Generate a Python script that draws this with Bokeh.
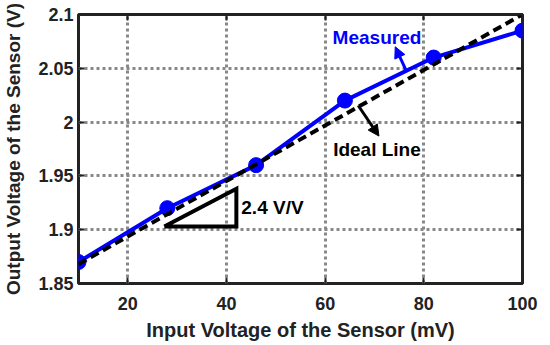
from bokeh.plotting import figure
from bokeh.models import LinearAxis, Range1d, FixedTicker, Arrow, NormalHead, Label
from bokeh.embed import file_html
from bokeh.resources import INLINE

# data
x_meas = [10, 28, 46, 64, 82, 100]
y_meas = [1.87, 1.92, 1.96, 2.02, 2.06, 2.085]
x_ideal = [10, 100]
y_ideal = [1.868, 2.1]
x_ticks = [20, 40, 60, 80, 100]
y_ticks = [1.85, 1.9, 1.95, 2.0, 2.05, 2.1]
y_tick_labels = {1.85: "1.85", 1.9: "1.9", 1.95: "1.95", 2.0: "2", 2.05: "2.05", 2.1: "2.1"}
tri_x = [27.4, 42, 42, 27.4]
tri_y = [1.903, 1.903, 1.938, 1.903]
x_title = "Input Voltage of the Sensor (mV)"
y_title = "Output Voltage of the Sensor (V)"

FONT = "Liberation Sans"
DARK = "#222222"

p = figure(width=550, height=345, output_backend="svg", toolbar_location=None,
           x_range=Range1d(10, 100), y_range=Range1d(1.85, 2.1),
           min_border_left=77, min_border_right=28, min_border_top=14, min_border_bottom=62,
           x_axis_label=x_title, y_axis_label=y_title)

p.outline_line_color = DARK
p.outline_line_width = 3
p.background_fill_color = "white"

for ax in (p.xaxis[0], p.yaxis[0]):
    ax.axis_line_color = None
    ax.major_tick_in = 6
    ax.major_tick_out = 0
    ax.major_tick_line_width = 2
    ax.major_tick_line_color = DARK
    ax.minor_tick_line_color = None
    ax.major_label_text_font = FONT
    ax.major_label_text_font_style = "bold"
    ax.major_label_text_font_size = "18px"
    ax.major_label_text_color = DARK
    ax.axis_label_text_font = FONT
    ax.axis_label_text_font_style = "bold"
    ax.axis_label_text_font_size = "20px"
    ax.axis_label_text_color = DARK

p.yaxis[0].axis_label_text_font_size = "19px"
p.xaxis[0].major_label_standoff = 13
p.xaxis[0].axis_label_standoff = 6
p.yaxis[0].major_label_standoff = 5
p.yaxis[0].axis_label_standoff = 11

p.xaxis[0].ticker = FixedTicker(ticks=x_ticks)
p.yaxis[0].ticker = FixedTicker(ticks=y_ticks)
p.yaxis[0].major_label_overrides = y_tick_labels

for loc, ticks in (("right", y_ticks), ("above", x_ticks)):
    ax = LinearAxis(ticker=FixedTicker(ticks=ticks))
    ax.axis_line_color = None
    ax.major_tick_in = 6
    ax.major_tick_out = 0
    ax.major_tick_line_width = 2
    ax.major_tick_line_color = DARK
    ax.minor_tick_line_color = None
    ax.major_label_text_font_size = "0px"
    ax.major_label_standoff = 0
    p.add_layout(ax, loc)

for g in (p.xgrid[0], p.ygrid[0]):
    g.grid_line_color = "#888888"
    g.grid_line_width = 3
    g.grid_line_dash = "3 3"
p.xgrid[0].ticker = FixedTicker(ticks=x_ticks)
p.ygrid[0].ticker = FixedTicker(ticks=y_ticks)

p.line(x_meas, y_meas, line_color="#0000ff", line_width=4)
p.scatter(x_meas, y_meas, size=15, fill_color="#0000ff", line_color="#0000ff")
p.line(x_ideal, y_ideal, line_color="black", line_width=4, line_dash="9 5")

p.line(tri_x, tri_y, line_color="black", line_width=4, line_join="miter")

p.add_layout(Label(x=43, y=1.921, text="2.4 V/V", text_font=FONT, text_font_style="bold",
                   text_font_size="19px", text_color="black", text_baseline="middle"))
p.add_layout(Label(x=70.5, y=2.079, text="Measured", text_font=FONT, text_font_style="bold",
                   text_font_size="19px", text_color="#0000ff", text_baseline="middle", text_align="center"))
p.add_layout(Label(x=70.5, y=1.975, text="Ideal Line", text_font=FONT, text_font_style="bold",
                   text_font_size="19px", text_color="black", text_baseline="middle", text_align="center"))

p.add_layout(Arrow(x_start=76.4, y_start=2.048, x_end=74.2, y_end=2.07,
                   line_color="#0000ff", line_width=3,
                   end=NormalHead(size=11, fill_color="#0000ff", line_color="#0000ff")))
p.add_layout(Arrow(x_start=66.7, y_start=2.0154, x_end=70.9, y_end=1.987,
                   line_color="black", line_width=3,
                   end=NormalHead(size=11, fill_color="black", line_color="black")))

open("out.html", "w").write(file_html(p, INLINE))
